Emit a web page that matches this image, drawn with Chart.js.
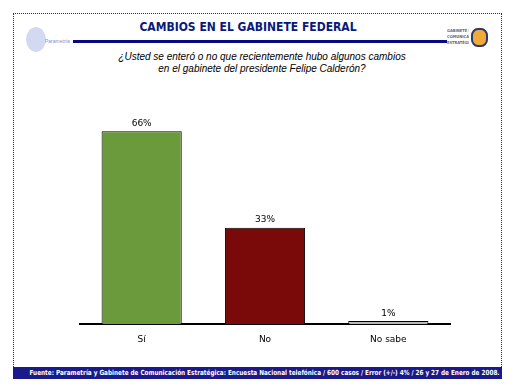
<!DOCTYPE html>
<html>
<head>
<meta charset="utf-8">
<script src="https://cdn.jsdelivr.net/npm/chart.js@4/dist/chart.umd.min.js"></script>
<style>
  html, body { margin: 0; padding: 0; background: #fff; }
  body { width: 514px; height: 386px; position: relative; overflow: hidden; font-family: "DejaVu Sans", Arial, sans-serif; }
  #frame { position: absolute; left: 13px; top: 13px; width: 489px; height: 366px; border: 1px dotted #1a237e; box-sizing: border-box; }
  #title { position: absolute; left: 0; width: 496px; top: 20px; text-align: center; color: #0a1a7a; font: bold 12px "DejaVu Sans Condensed", "Liberation Sans", sans-serif; }
  #rule { position: absolute; left: 73px; width: 374px; top: 40px; height: 3px; background: #0a0a80; }
  #sub { position: absolute; left: 0; width: 524px; top: 51px; text-align: center; font: italic 10px "Liberation Sans", Arial, sans-serif; line-height: 12px; color: #000; }
  #foot { position: absolute; left: 13px; width: 489px; top: 367px; height: 12px; background: #1a1a8a; overflow: hidden; }
  #foot span { position: absolute; right: 2px; top: 0; color: #fff; font: bold 7px "DejaVu Sans Condensed", sans-serif; line-height: 12px; white-space: nowrap; transform-origin: right center; }
  #logoL { position: absolute; left: 22px; top: 27px; width: 54px; height: 26px; }
  #logoL .c { position: absolute; left: 4px; top: 0; width: 20px; height: 25px; border-radius: 50%; background: #c8d0ee; opacity: .8; }
  #logoL .t { position: absolute; left: 23px; top: 11px; font: 5px sans-serif; color: #8890c8; }
  #logoR { position: absolute; left: 447px; top: 27px; width: 46px; height: 22px; }
  #logoR .t { position: absolute; left: 0; top: 1px; width: 22px; font: bold 4px "DejaVu Sans Condensed", sans-serif; color: #667; line-height: 6px; overflow: hidden; white-space: nowrap; }
  #logoR .c { position: absolute; left: 24px; top: 1px; width: 17px; height: 19px; border-radius: 40%; background: #f2a93b; border: 2px solid #2a3a6a; box-sizing: border-box; }
  #chart { position: absolute; left: 0; top: 0; }
</style>
</head>
<body>
<div id="frame"></div>
<div id="logoL"><div class="c"></div><div class="t">Parametría</div></div>
<div id="logoR"><div class="t">GABINETE DE<br>COMUNICACIÓN<br>ESTRATÉGICA</div><div class="c"></div></div>
<div id="title">CAMBIOS EN EL GABINETE FEDERAL</div>
<div id="rule"></div>
<div id="sub">¿Usted se enteró o no que recientemente hubo algunos cambios<br>en el gabinete del presidente Felipe Calderón?</div>
<canvas id="chart" width="514" height="386"></canvas>
<div id="foot"><span id="footTxt">Fuente: Parametría y Gabinete de Comunicación Estratégica: Encuesta Nacional telefónica / 600 casos / Error (+/-) 4% / 26 y 27 de Enero de 2008.</span></div>
<script>
// Datos
const categorias = ['Sí', 'No', 'No sabe'];
const valores = [66, 33, 1];
const colores = ['#6b9a3c', '#7a0a0a', '#b8b8b8'];

// ajustar el pie de página al ancho disponible
const ft = document.getElementById('footTxt');
const w = ft.getBoundingClientRect().width;
ft.style.transform = 'scaleX(' + (470 / w) + ')';

// Etiquetas de porcentaje sobre cada barra
const etiquetas = {
  id: 'etiquetas',
  afterDatasetsDraw(chart) {
    const ctx = chart.ctx;
    const meta = chart.getDatasetMeta(0);
    ctx.save();
    ctx.fillStyle = '#000';
    ctx.font = '9px "DejaVu Sans", sans-serif';
    ctx.textAlign = 'center';
    ctx.textBaseline = 'bottom';
    meta.data.forEach((bar, i) => {
      ctx.fillText(valores[i] + '%', bar.x, bar.y - 3);
    });
    ctx.restore();
  }
};

const ctx = document.getElementById('chart').getContext('2d');
new Chart(ctx, {
  type: 'bar',
  data: {
    labels: categorias,
    datasets: [{
      data: valores,
      backgroundColor: colores,
      borderColor: '#000',
      borderWidth: 1,
      categoryPercentage: 1,
      barPercentage: 0.65
    }]
  },
  options: {
    responsive: false,
    animation: false,
    layout: { padding: { left: 80, right: 64, top: 105, bottom: 42 } },
    plugins: { legend: { display: false }, tooltip: { enabled: false } },
    scales: {
      x: {
        grid: { display: false },
        border: { color: '#000', width: 2 },
        ticks: { color: '#000', font: { size: 9, family: '"DejaVu Sans", sans-serif' }, padding: 2 },
        afterFit(scale) { scale.height = 20; }
      },
      y: { display: false, min: 0, max: 75 }
    }
  },
  plugins: [etiquetas]
});
</script>
</body>
</html>
